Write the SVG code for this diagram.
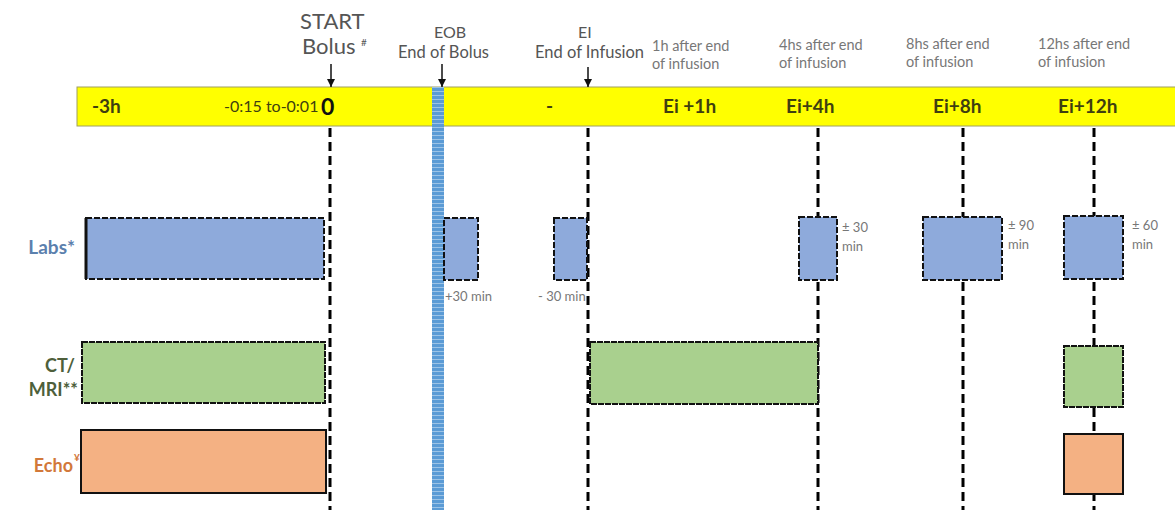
<svg xmlns="http://www.w3.org/2000/svg" width="1175" height="510" viewBox="0 0 1175 510">
<style>
text{font-family:Lato,"Liberation Sans",sans-serif}
.top{fill:#555}
.sm{fill:#777;font-size:14.5px}
.bar{fill:#3f3f10;font-size:19px;font-weight:bold}
.vl{stroke:#000;stroke-width:3;stroke-dasharray:9 5;fill:none}
.labs{fill:#8eaadb;stroke:#111;stroke-width:2;stroke-dasharray:6 2}
.ct{fill:#a9d08e;stroke:#111;stroke-width:2;stroke-dasharray:6 1}
.echo{fill:#f4b183;stroke:#111;stroke-width:2}
.note{fill:#777;font-size:13px}
.arr{stroke:#111;stroke-width:1.5;marker-end:url(#ah)}
</style>
<defs>
<marker id="ah" markerWidth="8" markerHeight="8" refX="8" refY="4" orient="auto" markerUnits="userSpaceOnUse" viewBox="0 0 8 8">
<path d="M0,0 L8,4 L0,8 Z" fill="#111"/>
</marker>
<pattern id="stripe" width="12" height="4" patternUnits="userSpaceOnUse">
<rect width="12" height="4" fill="#5b9bd5"/>
<rect y="3" width="12" height="1" fill="#9cc3e6"/>
</pattern>
</defs>
<rect width="1175" height="510" fill="#fff"/>

<g id="timeline">
<rect x="77" y="87" width="1100" height="39" fill="#ffff00" stroke="#a0a060" stroke-width="1"/>
<text class="bar" x="92" y="113">-3h</text>
<text x="224" y="112" fill="#3f3f10" font-size="16">-0:15 to-0:01</text>
<text x="321" y="115" fill="#111" font-size="23" font-weight="bold">0</text>
<text class="bar" x="546" y="113" font-size="14">-</text>
<text class="bar" x="663" y="113">Ei +1h</text>
<text class="bar" x="786" y="113">Ei+4h</text>
<text class="bar" x="933" y="113">Ei+8h</text>
<text class="bar" x="1058" y="113">Ei+12h</text>
</g>

<g id="eob-band">
<rect x="432" y="87" width="12" height="423" fill="url(#stripe)"/>
</g>

<g id="top-labels">
<text class="top" x="300" y="29" font-size="22">START</text>
<text class="top" x="302" y="54" font-size="22">Bolus</text>
<text class="top" x="361" y="46" font-size="10">#</text>
<text class="top" x="434" y="38" font-size="16">EOB</text>
<text class="top" x="398" y="58" font-size="16.5">End of Bolus</text>
<text class="top" x="578" y="38" font-size="16">EI</text>
<text class="top" x="535" y="58" font-size="16.5">End of Infusion</text>
<text class="sm" x="652" y="51">1h after end</text>
<text class="sm" x="652" y="69">of infusion</text>
<text class="sm" x="779" y="50">4hs after end</text>
<text class="sm" x="779" y="68">of infusion</text>
<text class="sm" x="906" y="49">8hs after end</text>
<text class="sm" x="906" y="67">of infusion</text>
<text class="sm" x="1038" y="49">12hs after end</text>
<text class="sm" x="1038" y="67">of infusion</text>
</g>

<g id="connectors">
<line class="arr" x1="331" y1="64" x2="331" y2="87"/>
<line class="arr" x1="442" y1="64" x2="442" y2="87"/>
<line class="arr" x1="588" y1="67" x2="588" y2="87"/>
<line class="vl" x1="330" y1="128" x2="330" y2="510"/>
<line class="vl" x1="588" y1="128" x2="588" y2="510"/>
<line class="vl" x1="818" y1="128" x2="818" y2="510"/>
<line class="vl" x1="963" y1="128" x2="963" y2="510"/>
<line class="vl" x1="1094" y1="128" x2="1094" y2="510"/>
</g>

<g id="row-labels">
<text x="75" y="254" text-anchor="end" fill="#5b80ad" font-size="19" font-weight="bold">Labs*</text>
<text x="75" y="372" text-anchor="end" fill="#4e5f3b" font-size="18" font-weight="bold">CT/</text>
<text x="78" y="396" text-anchor="end" fill="#4e5f3b" font-size="18" font-weight="bold">MRI**</text>
<text x="73" y="472" text-anchor="end" fill="#d2783a" font-size="18" font-weight="bold">Echo</text>
<text x="74" y="461" fill="#d2783a" font-size="10" font-weight="bold">¥</text>
</g>

<g id="labs-boxes">
<rect class="labs" x="86" y="218" width="238" height="61"/>
<line x1="86" y1="218" x2="86" y2="279" stroke="#111" stroke-width="3"/>
<rect class="labs" x="444" y="218" width="34" height="62"/>
<text class="note" x="445" y="301" font-size="10">+30 min</text>
<rect class="labs" x="554" y="218" width="33" height="62"/>
<text class="note" x="538" y="301" font-size="10">- 30 min</text>
<rect class="labs" x="799" y="217" width="38" height="63"/>
<text class="note" x="842" y="232">± 30</text>
<text class="note" x="842" y="251">min</text>
<rect class="labs" x="923" y="217" width="79" height="63"/>
<text class="note" x="1008" y="230">± 90</text>
<text class="note" x="1008" y="249">min</text>
<rect class="labs" x="1064" y="216" width="59" height="63"/>
<text class="note" x="1132" y="230">± 60</text>
<text class="note" x="1132" y="249">min</text>
</g>

<g id="ct-boxes">
<rect class="ct" x="82" y="342" width="243" height="61"/>
<rect class="ct" x="590" y="342" width="228" height="62"/>
<rect class="ct" x="1064" y="346" width="59" height="61"/>
</g>

<g id="echo-boxes">
<rect class="echo" x="81" y="430" width="245" height="63"/>
<rect class="echo" x="1064" y="434" width="59" height="60"/>
</g>
</svg>
